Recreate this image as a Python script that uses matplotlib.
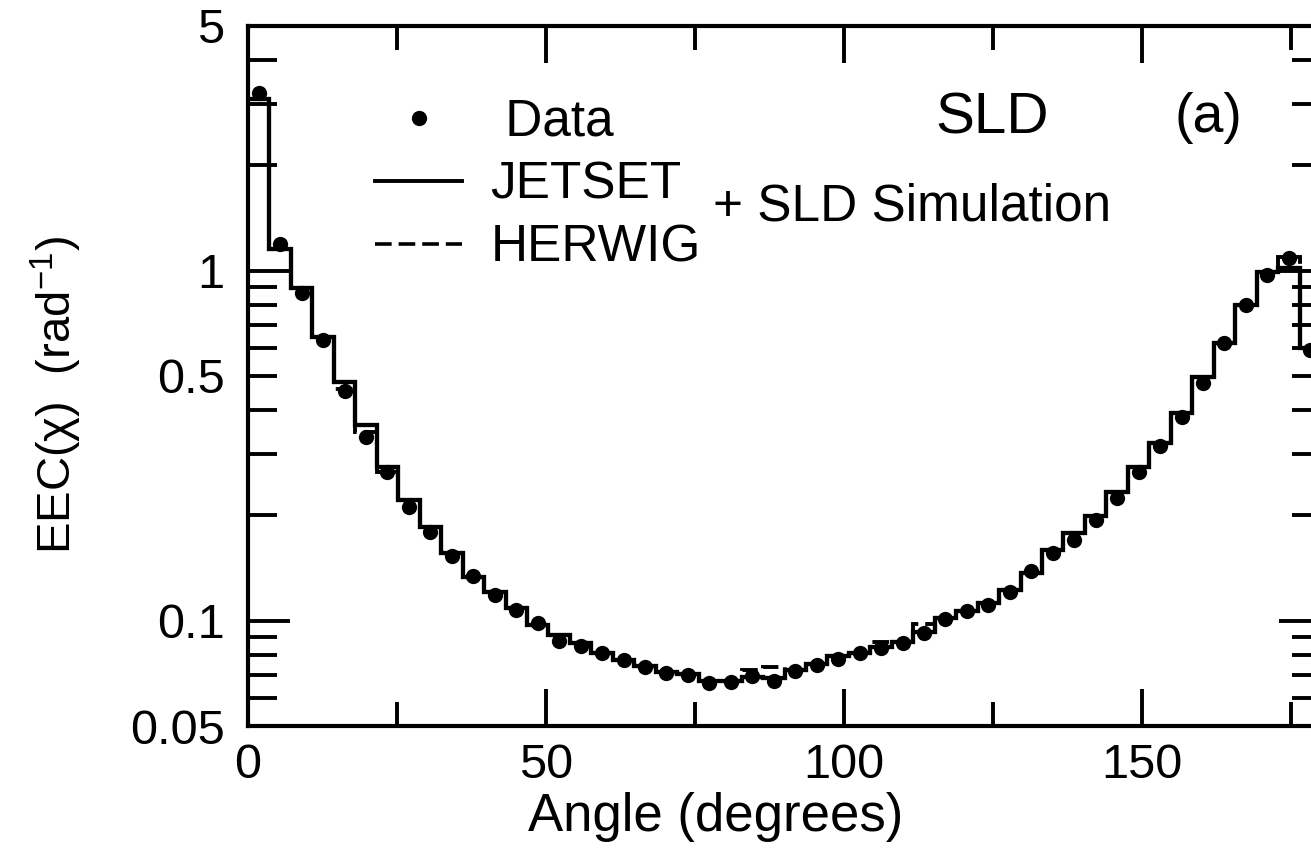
import numpy as np
import matplotlib
matplotlib.use('Agg')
import matplotlib.pyplot as plt
from matplotlib.lines import Line2D

plt.rcParams['font.family'] = ['Liberation Sans', 'DejaVu Sans']
plt.rcParams['mathtext.fontset'] = 'custom'
plt.rcParams['mathtext.rm'] = 'Liberation Sans'
plt.rcParams['lines.scale_dashes'] = False

#### DATA ####
# 50 bins of 3.6 degrees, 0..180
bin_width = 3.6
n_bins = 50
edges = np.arange(n_bins + 1) * bin_width
centers = edges[:-1] + bin_width / 2

data_eec = [3.22, 1.19, 0.865, 0.635, 0.452, 0.335, 0.266, 0.211, 0.179, 0.153,
            0.134, 0.118, 0.107, 0.0985, 0.0877, 0.0847, 0.081, 0.0772, 0.0738, 0.0707,
            0.0700, 0.0662, 0.0668, 0.0693, 0.0672, 0.0719, 0.0747, 0.0777, 0.0807, 0.0835,
            0.0866, 0.0922, 0.1012, 0.1062, 0.111, 0.121, 0.139, 0.1556, 0.170, 0.194,
            0.2237, 0.2664, 0.316, 0.383, 0.4765, 0.623, 0.800, 0.972, 1.087, 0.593]

jetset = [3.10, 1.15, 0.89, 0.648, 0.482, 0.362, 0.275, 0.221, 0.1855, 0.1557,
          0.1336, 0.121, 0.1085, 0.0972, 0.091, 0.0861, 0.0807, 0.0772, 0.074, 0.0712,
          0.0705, 0.0672, 0.0672, 0.069, 0.0685, 0.0725, 0.075, 0.079, 0.081, 0.084,
          0.087, 0.093, 0.1015, 0.1065, 0.112, 0.1224, 0.137, 0.159, 0.1776, 0.199,
          0.2336, 0.275, 0.321, 0.391, 0.498, 0.620, 0.798, 0.993, 1.015, 0.600]

herwig = [3.10, 1.15, 0.89, 0.648, 0.460, 0.345, 0.266, 0.221, 0.1855, 0.1557,
          0.1336, 0.121, 0.1085, 0.0972, 0.091, 0.0861, 0.0807, 0.0772, 0.074, 0.0712,
          0.0705, 0.0672, 0.0672, 0.0722, 0.0738, 0.0725, 0.075, 0.079, 0.081, 0.0869,
          0.087, 0.098, 0.1015, 0.1065, 0.112, 0.1224, 0.137, 0.159, 0.1776, 0.199,
          0.2336, 0.275, 0.321, 0.391, 0.498, 0.620, 0.798, 0.993, 1.096, 0.600]

x_major = [0, 50, 100, 150]
x_minor = [25, 75, 125, 175]
y_major = [0.1, 1]
y_minor = [0.05, 0.06, 0.07, 0.08, 0.09, 0.2, 0.3, 0.4, 0.5, 0.6, 0.7, 0.8, 0.9,
           2, 3, 4, 5]
y_minor_labels = {0.05: '0.05', 0.5: '0.5', 5: '5'}

#### FIGURE ####
W, H = 1311, 850
fig = plt.figure(figsize=(W / 100, H / 100), dpi=100)
# right edge of the frame sits just outside the picture (x=180)
ax = fig.add_axes([248 / W, (H - 726) / H, (1321 - 248) / W, 700 / H])

ax.stairs(jetset, edges, baseline=None, color='k', lw=3.1)
ax.stairs(herwig, edges, baseline=None, color='k', lw=2.8, linestyle=(0, (12, 5)))
ax.plot(centers, data_eec, 'o', color='k', markersize=11, markeredgewidth=0)

ax.set_yscale('log')
ax.set_xlim(0, 180)
ax.set_ylim(0.05, 5)

ax.set_xticks(x_major, labels=[str(v) for v in x_major])
ax.set_xticks(x_minor, minor=True)
ax.set_yticks(y_major, labels=['0.1', '1'])
ax.set_yticks(y_minor, labels=[y_minor_labels.get(v, '') for v in y_minor], minor=True)

ax.tick_params(which='both', direction='in', top=True, right=True, width=2.8,
               labelsize=35, color='k')
ax.tick_params(axis='x', which='major', length=26.5, pad=12)
ax.tick_params(axis='x', which='minor', length=17)
ax.tick_params(axis='y', which='major', length=30, pad=17)
ax.tick_params(axis='y', which='minor', length=21, pad=17)
for s in ax.spines.values():
    s.set_linewidth(3)

#### LEGEND / TEXT ####
handles = [Line2D([], [], marker='o', color='k', linestyle='none', markersize=11, markeredgewidth=0),
           Line2D([], [], color='k', lw=2.8),
           Line2D([], [], color='k', lw=2.6, linestyle=(0, (12, 5)))]
ax.legend(handles, [' Data', 'JETSET', 'HERWIG'], loc='upper left',
          bbox_to_anchor=(375 / W, 1 - 98 / H), bbox_transform=fig.transFigure,
          frameon=False, fontsize=37, handlelength=1.7, handletextpad=0.55,
          labelspacing=0.27, borderpad=0, borderaxespad=0)

fig.text(713 / W, 1 - 207 / H, '+ SLD Simulation', fontsize=37, ha='left', va='center')
fig.text(935 / W, 1 - 118 / H, 'SLD', fontsize=42, ha='left', va='center')
fig.text(1175 / W, 1 - 118 / H, '(a)', fontsize=40, ha='left', va='center')

fig.text(716 / W, 1 - 817 / H, 'Angle (degrees)', fontsize=38, ha='center', va='center')
fig.text(56 / W, 1 - 395 / H, r'EEC(χ)  (rad$^{-1}$)', fontsize=34, rotation=90,
         ha='center', va='center')

fig.savefig('out.png', dpi=100)
